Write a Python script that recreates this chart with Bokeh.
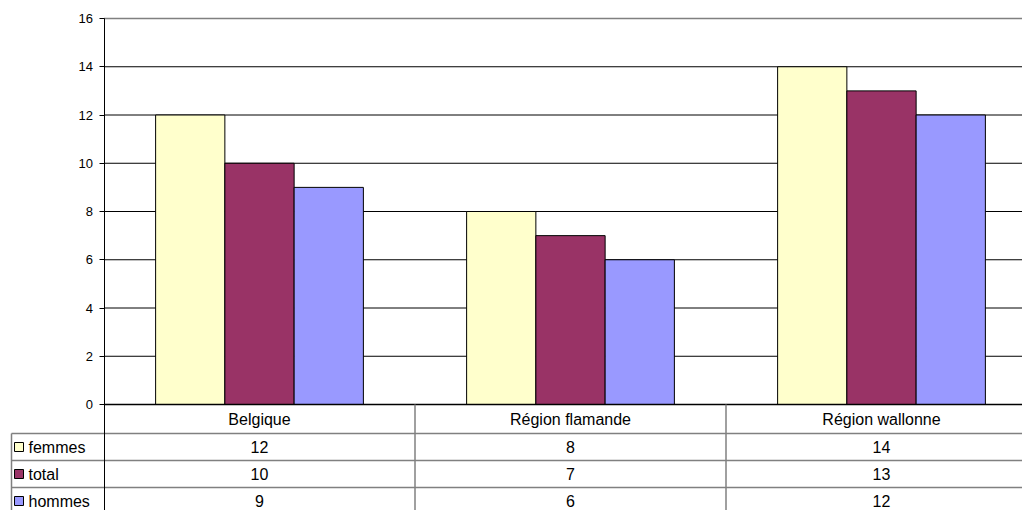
from bokeh.plotting import figure
from bokeh.models import Range1d, FixedTicker, ColumnDataSource
from bokeh.core.properties import value
from bokeh.embed import file_html
from bokeh.resources import INLINE

# ---- data ----
categories = ["Belgique", "Région flamande", "Région wallonne"]
series_names = ["femmes", "total", "hommes"]
femmes = [12, 8, 14]
total = [10, 7, 13]
hommes = [9, 6, 12]
series_colors = ["#FFFFCC", "#993366", "#9999FF"]
y_ticks = [0, 2, 4, 6, 8, 10, 12, 14, 16]

# ---- layout constants (pixels) ----
W, H = 1022, 510
FONT = value("Liberation Sans")
GRAY = "#808080"
X0_PX = 103.5          # pixel of the value axis
CAT_W = 311.0          # px per category
Y0_PX = 404.0          # pixel of value 0
PX_PER_UNIT = 24.125   # px per value unit
FRAME_L = 9
BAR_W = 0.2227
HEADER_BOTTOM = 433
ROW_H = 27
TABLE_FS = "16px"


def dx(px):
    return (px - X0_PX) / CAT_W


def dy(px):
    return (Y0_PX - px) / PX_PER_UNIT


series_values = [femmes, total, hommes]
n = len(categories)
rows = len(series_names)
x_end = dx(W)
left_edge = dx(11)

p = figure(width=W, height=H, output_backend="svg", toolbar_location=None,
           x_range=Range1d(dx(FRAME_L), x_end), y_range=Range1d(dy(H), dy(0)),
           x_axis_location=None, min_border_left=FRAME_L, min_border_right=0,
           min_border_top=0, min_border_bottom=0)
p.outline_line_color = None
p.background_fill_color = "white"
p.border_fill_color = "white"
p.xgrid.visible = False
p.ygrid.visible = False

ya = p.yaxis[0]
ya.fixed_location = 0
ya.bounds = (dy(H + 10), y_ticks[-1])
ya.ticker = FixedTicker(ticks=y_ticks)
ya.major_tick_out = 5
ya.major_tick_in = 0
ya.minor_tick_out = 0
ya.minor_tick_in = 0
ya.axis_line_color = "black"
ya.major_tick_line_color = "black"
ya.major_label_text_font = "Liberation Sans"
ya.major_label_text_font_size = "13px"
ya.major_label_text_color = "#000000"
ya.major_label_standoff = 6

# gridlines (only over the plot area)
grid_vals = y_ticks[1:-1]
p.segment(x0=[0] * len(grid_vals), y0=grid_vals, x1=[x_end + 1] * len(grid_vals),
          y1=grid_vals, line_color="black", line_width=1)
p.segment(x0=[0], y0=[y_ticks[-1]], x1=[x_end + 1], y1=[y_ticks[-1]],
          line_color=GRAY, line_width=1.5)

# bars
offsets = [-BAR_W, 0.0, BAR_W]
for s, (vals, col) in enumerate(zip(series_values, series_colors)):
    src = ColumnDataSource(dict(x=[i + 0.5 + offsets[s] for i in range(n)], top=vals))
    p.vbar(x="x", top="top", bottom=0, width=BAR_W, source=src,
           fill_color=col, line_color="black", line_width=1)

# zero line
p.segment(x0=[0], y0=[0], x1=[x_end + 1], y1=[0], line_color="black", line_width=1.5)

# ---- data table ----
row_tops = [HEADER_BOTTOM + r * ROW_H for r in range(rows)]
row_mid = [dy(t + ROW_H / 2) for t in row_tops]

# header row (category names)
header_y = dy((Y0_PX + HEADER_BOTTOM) / 2 + 0.5)
p.text(x=[i + 0.5 for i in range(n)], y=[header_y] * n, text=categories,
       text_font=FONT, text_font_size=TABLE_FS, text_align="center",
       text_baseline="middle", text_color="black")

# horizontal borders
p.segment(x0=[left_edge] * rows, y0=[dy(t) for t in row_tops], x1=[x_end + 1] * rows,
          y1=[dy(t) for t in row_tops], line_color=GRAY, line_width=1.5)
# vertical borders
p.segment(x0=list(range(1, n)), y0=[0] * (n - 1), x1=list(range(1, n)),
          y1=[dy(H + 10)] * (n - 1), line_color=GRAY, line_width=1.5)
p.segment(x0=[left_edge], y0=[dy(HEADER_BOTTOM)], x1=[left_edge], y1=[dy(H + 10)],
          line_color=GRAY, line_width=1.5)

# legend keys and series names
p.scatter(x=[dx(18.5)] * rows, y=row_mid, marker="square", size=9,
          fill_color=series_colors, line_color="black", line_width=1)
p.text(x=[dx(28)] * rows, y=row_mid, text=series_names,
       text_font=FONT, text_font_size=TABLE_FS, text_align="left",
       text_baseline="middle", text_color="black")

# values
xs, ys, txt = [], [], []
for r, vals in enumerate(series_values):
    for i, v in enumerate(vals):
        xs.append(i + 0.5)
        ys.append(row_mid[r])
        txt.append(str(v))
p.text(x=xs, y=ys, text=txt, text_font=FONT, text_font_size=TABLE_FS,
       text_align="center", text_baseline="middle", text_color="black")

open("out.html", "w").write(file_html(p, INLINE))
